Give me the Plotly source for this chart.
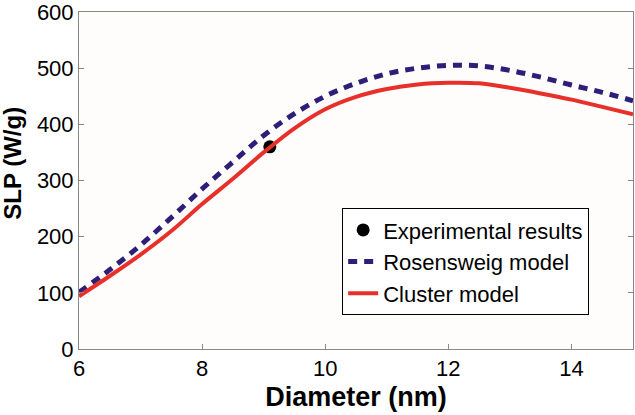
import plotly.graph_objects as go

diameter = [6, 6.5, 7, 7.5, 8, 8.5, 9, 9.5, 10, 10.5, 11, 11.5, 12, 12.5, 13, 13.5, 14, 14.5, 15]
cluster_slp = [94, 130, 168, 210, 258, 303, 350, 393, 427, 449, 463, 471, 474, 473, 465, 455, 444, 431, 418]
rosensweig_slp = [101, 141, 185, 234, 285, 333, 380, 419, 450, 473, 490, 500, 505, 504, 496, 484, 470, 457, 442]
exp_diameter = [9.1]
exp_slp = [360]

FONT = "Liberation Sans, Arial, sans-serif"

fig = go.Figure()
fig.add_trace(go.Scatter(x=exp_diameter, y=exp_slp, mode="markers", name="Experimental results",
                         marker=dict(color="black", size=13)))
fig.add_trace(go.Scatter(x=diameter, y=rosensweig_slp, mode="lines", name="Rosensweig model",
                         line=dict(color="#2d1f78", width=5, dash="9px,7px", shape="spline")))
fig.add_trace(go.Scatter(x=diameter, y=cluster_slp, mode="lines", name="Cluster model",
                         line=dict(color="#e8302a", width=4, shape="spline")))

fig.update_layout(
    width=635, height=415,
    margin=dict(l=79, r=2, t=12, b=66),
    paper_bgcolor="white", plot_bgcolor="#fefdfc",
    font=dict(family=FONT, size=20, color="black"),
    showlegend=True,
    legend=dict(x=0.475, y=0.418, xanchor="left", yanchor="top",
                bordercolor="black", borderwidth=1, bgcolor="white",
                font=dict(size=22, family=FONT), tracegroupgap=0),
    annotations=[dict(text="<b>SLP (W/g)</b>", textangle=-90, xref="paper", yref="paper",
                      x=-0.119, y=0.55, xanchor="center", yanchor="middle", showarrow=False,
                      font=dict(size=24, family=FONT, color="black"))],
)
fig.update_xaxes(range=[6, 15], tickvals=[6, 8, 10, 12, 14], ticks="inside", ticklen=5,
                 tickcolor="#888", showline=True, linecolor="#888", linewidth=1, mirror=True,
                 showgrid=False, zeroline=False, tickfont=dict(size=22), automargin=False,
                 ticklabeloverflow="allow",
                 title=dict(text="<b>Diameter (nm)</b>", font=dict(size=27), standoff=6))
fig.update_yaxes(range=[0, 600], tickvals=[0, 100, 200, 300, 400, 500, 600], ticks="inside", ticklen=5,
                 tickcolor="#888", showline=True, linecolor="#888", linewidth=1, mirror="ticks",
                 showgrid=False, zeroline=False, tickfont=dict(size=22), automargin=False,
                 ticklabeloverflow="allow")

fig.write_html("out.html", config={"displayModeBar": False},
               post_script="document.body.style.margin='0px';")
